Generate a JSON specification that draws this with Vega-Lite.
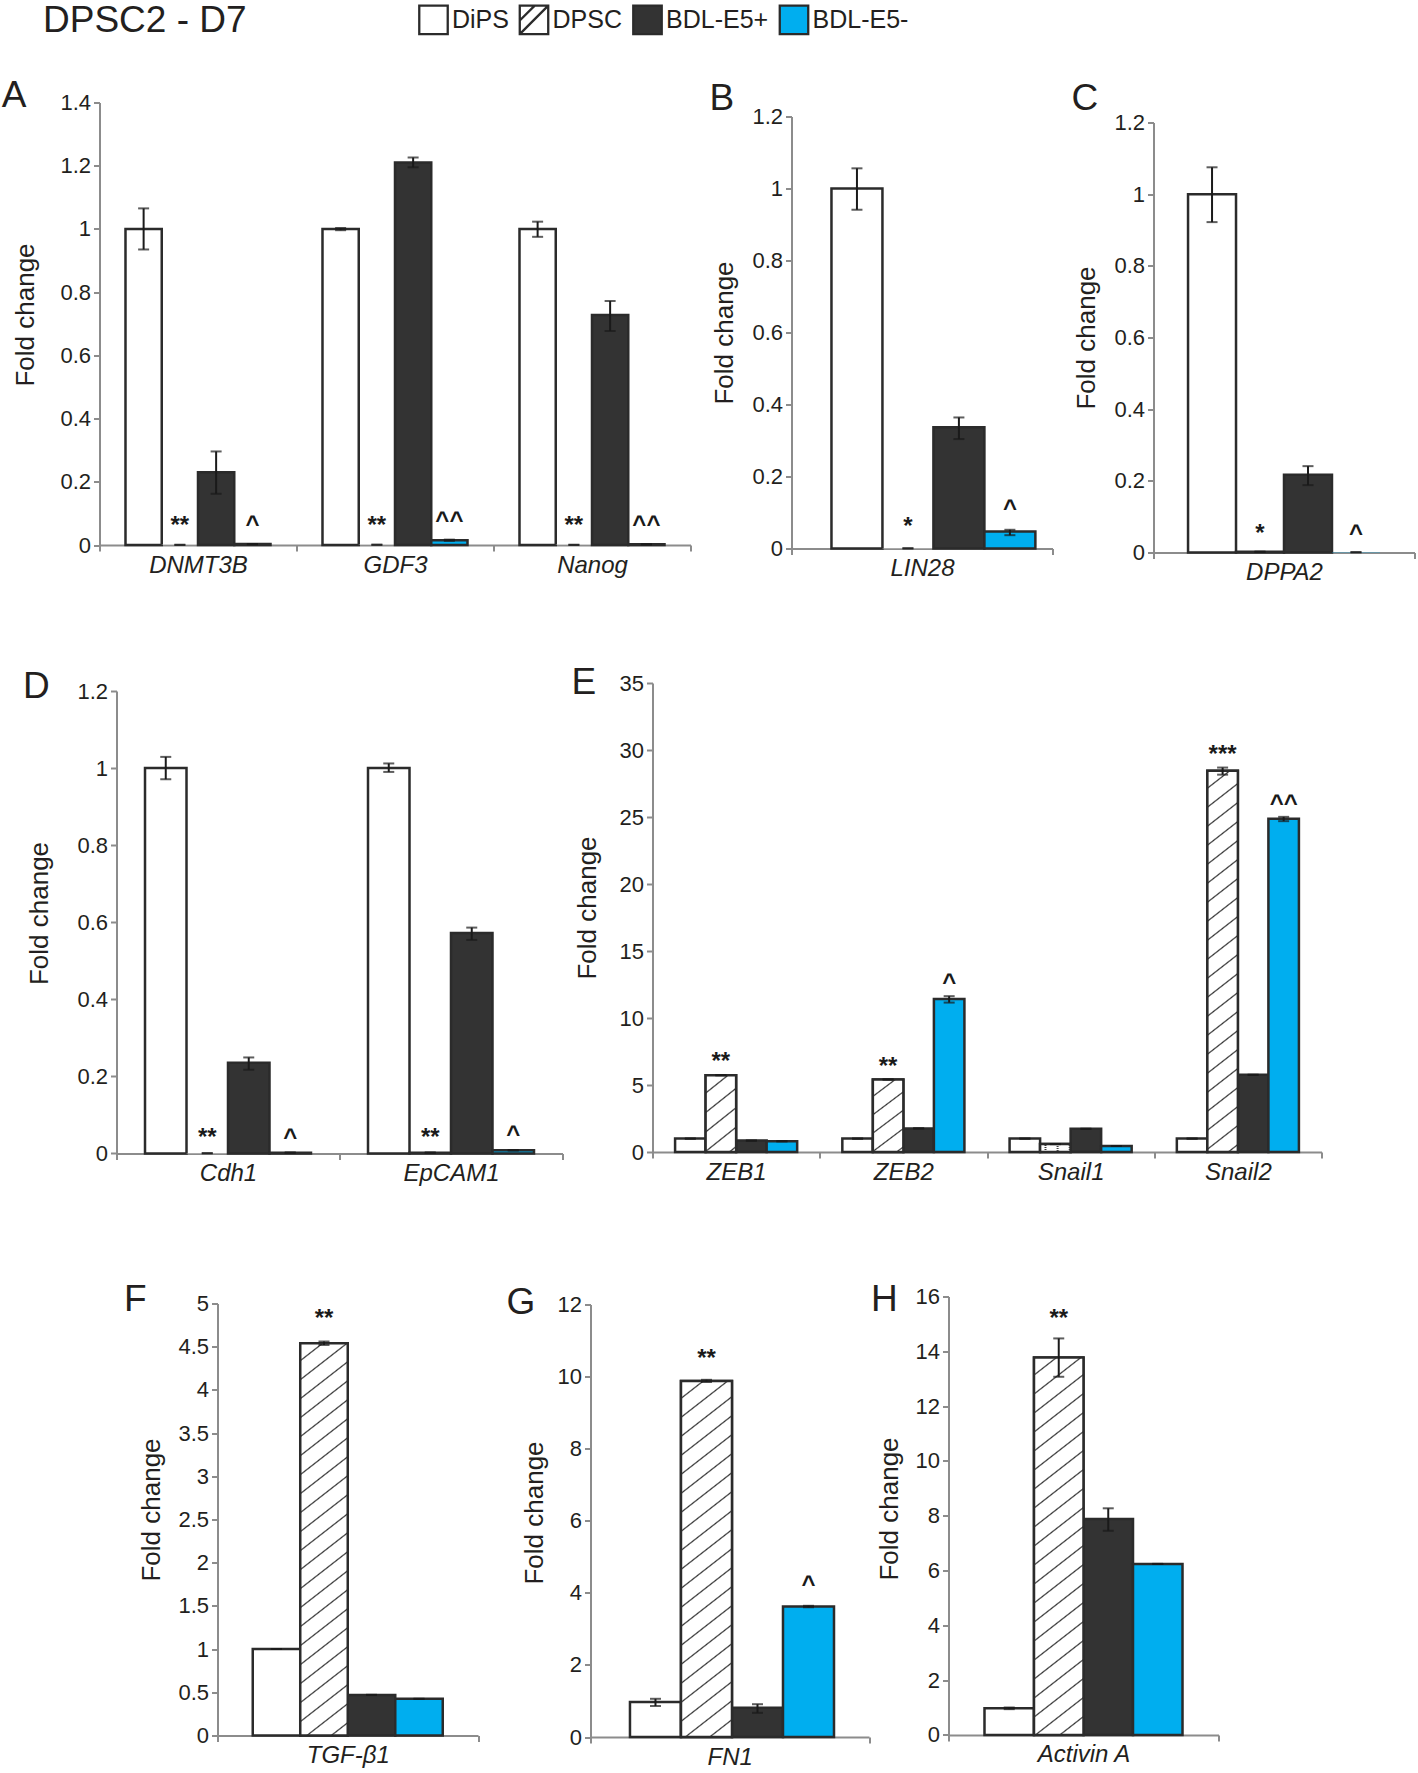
{
  "$schema": "https://vega.github.io/schema/vega-lite/v6.json",
  "padding": {"left": 0.5, "top": 3.5, "right": 2, "bottom": 2},
  "background": "white",
  "datasets": {
    "d": [
      {"p": "A", "gene": "DNMT3B", "group": "DiPS", "value": 1, "lo": 0.935, "hi": 1.065, "sig": ""},
      {"p": "A", "gene": "DNMT3B", "group": "DPSC", "value": 0.0005, "lo": 0.0005, "hi": 0.0005, "sig": "**"},
      {"p": "A", "gene": "DNMT3B", "group": "BDL-E5+", "value": 0.23, "lo": 0.162, "hi": 0.296, "sig": ""},
      {"p": "A", "gene": "DNMT3B", "group": "BDL-E5-", "value": 0.003, "lo": 0.003, "hi": 0.003, "sig": "^"},
      {"p": "A", "gene": "GDF3", "group": "DiPS", "value": 1, "lo": 0.996, "hi": 1.003, "sig": ""},
      {"p": "A", "gene": "GDF3", "group": "DPSC", "value": 0.0008, "lo": 0.0008, "hi": 0.0008, "sig": "**"},
      {"p": "A", "gene": "GDF3", "group": "BDL-E5+", "value": 1.21, "lo": 1.195, "hi": 1.226, "sig": ""},
      {"p": "A", "gene": "GDF3", "group": "BDL-E5-", "value": 0.015, "lo": 0.013, "hi": 0.017, "sig": "^^"},
      {"p": "A", "gene": "Nanog", "group": "DiPS", "value": 1, "lo": 0.975, "hi": 1.023, "sig": ""},
      {"p": "A", "gene": "Nanog", "group": "DPSC", "value": 0.0005, "lo": 0.0005, "hi": 0.0005, "sig": "**"},
      {"p": "A", "gene": "Nanog", "group": "BDL-E5+", "value": 0.728, "lo": 0.677, "hi": 0.772, "sig": ""},
      {"p": "A", "gene": "Nanog", "group": "BDL-E5-", "value": 0.002, "lo": 0.002, "hi": 0.002, "sig": "^^"},
      {"p": "B", "gene": "LIN28", "group": "DiPS", "value": 1, "lo": 0.941, "hi": 1.056, "sig": ""},
      {"p": "B", "gene": "LIN28", "group": "DPSC", "value": 0.0005, "lo": 0.0005, "hi": 0.0005, "sig": "*"},
      {"p": "B", "gene": "LIN28", "group": "BDL-E5+", "value": 0.337, "lo": 0.304, "hi": 0.364, "sig": ""},
      {"p": "B", "gene": "LIN28", "group": "BDL-E5-", "value": 0.047, "lo": 0.037, "hi": 0.052, "sig": "^"},
      {"p": "C", "gene": "DPPA2", "group": "DiPS", "value": 1, "lo": 0.922, "hi": 1.075, "sig": ""},
      {"p": "C", "gene": "DPPA2", "group": "DPSC", "value": 0.002, "lo": 0.002, "hi": 0.002, "sig": "*"},
      {"p": "C", "gene": "DPPA2", "group": "BDL-E5+", "value": 0.217, "lo": 0.188, "hi": 0.241, "sig": ""},
      {"p": "C", "gene": "DPPA2", "group": "BDL-E5-", "value": 0.0008, "lo": 0.0008, "hi": 0.0008, "sig": "^"},
      {"p": "D", "gene": "Cdh1", "group": "DiPS", "value": 1, "lo": 0.971, "hi": 1.029, "sig": ""},
      {"p": "D", "gene": "Cdh1", "group": "DPSC", "value": 0.0005, "lo": 0.0005, "hi": 0.0005, "sig": "**"},
      {"p": "D", "gene": "Cdh1", "group": "BDL-E5+", "value": 0.235, "lo": 0.217, "hi": 0.249, "sig": ""},
      {"p": "D", "gene": "Cdh1", "group": "BDL-E5-", "value": 0.002, "lo": 0.002, "hi": 0.002, "sig": "^"},
      {"p": "D", "gene": "EpCAM1", "group": "DiPS", "value": 1, "lo": 0.99, "hi": 1.012, "sig": ""},
      {"p": "D", "gene": "EpCAM1", "group": "DPSC", "value": 0.002, "lo": 0.002, "hi": 0.002, "sig": "**"},
      {"p": "D", "gene": "EpCAM1", "group": "BDL-E5+", "value": 0.572, "lo": 0.554, "hi": 0.586, "sig": ""},
      {"p": "D", "gene": "EpCAM1", "group": "BDL-E5-", "value": 0.008, "lo": 0.008, "hi": 0.008, "sig": "^"},
      {"p": "E", "gene": "ZEB1", "group": "DiPS", "value": 1, "lo": 1, "hi": 1, "sig": ""},
      {"p": "E", "gene": "ZEB1", "group": "DPSC", "value": 5.73, "lo": 5.73, "hi": 5.73, "sig": "**"},
      {"p": "E", "gene": "ZEB1", "group": "BDL-E5+", "value": 0.85, "lo": 0.85, "hi": 0.85, "sig": ""},
      {"p": "E", "gene": "ZEB1", "group": "BDL-E5-", "value": 0.8, "lo": 0.8, "hi": 0.8, "sig": ""},
      {"p": "E", "gene": "ZEB2", "group": "DiPS", "value": 1, "lo": 1, "hi": 1, "sig": ""},
      {"p": "E", "gene": "ZEB2", "group": "DPSC", "value": 5.41, "lo": 5.41, "hi": 5.41, "sig": "**"},
      {"p": "E", "gene": "ZEB2", "group": "BDL-E5+", "value": 1.76, "lo": 1.76, "hi": 1.76, "sig": ""},
      {"p": "E", "gene": "ZEB2", "group": "BDL-E5-", "value": 11.41, "lo": 11.15, "hi": 11.63, "sig": "^"},
      {"p": "E", "gene": "Snail1", "group": "DiPS", "value": 1, "lo": 1, "hi": 1, "sig": ""},
      {"p": "E", "gene": "Snail1", "group": "DPSC", "value": 0.59, "lo": 0.59, "hi": 0.59, "sig": ""},
      {"p": "E", "gene": "Snail1", "group": "BDL-E5+", "value": 1.73, "lo": 1.73, "hi": 1.73, "sig": ""},
      {"p": "E", "gene": "Snail1", "group": "BDL-E5-", "value": 0.45, "lo": 0.45, "hi": 0.45, "sig": ""},
      {"p": "E", "gene": "Snail2", "group": "DiPS", "value": 1, "lo": 1, "hi": 1, "sig": ""},
      {"p": "E", "gene": "Snail2", "group": "DPSC", "value": 28.45, "lo": 28.16, "hi": 28.69, "sig": "***"},
      {"p": "E", "gene": "Snail2", "group": "BDL-E5+", "value": 5.76, "lo": 5.76, "hi": 5.76, "sig": ""},
      {"p": "E", "gene": "Snail2", "group": "BDL-E5-", "value": 24.87, "lo": 24.69, "hi": 25.01, "sig": "^^"},
      {"p": "F", "gene": "TGF-β1", "group": "DiPS", "value": 1, "lo": 1, "hi": 1, "sig": ""},
      {"p": "F", "gene": "TGF-β1", "group": "DPSC", "value": 4.54, "lo": 4.52, "hi": 4.56, "sig": "**"},
      {"p": "F", "gene": "TGF-β1", "group": "BDL-E5+", "value": 0.47, "lo": 0.47, "hi": 0.47, "sig": ""},
      {"p": "F", "gene": "TGF-β1", "group": "BDL-E5-", "value": 0.424, "lo": 0.424, "hi": 0.424, "sig": ""},
      {"p": "G", "gene": "FN1", "group": "DiPS", "value": 0.97, "lo": 0.86, "hi": 1.06, "sig": ""},
      {"p": "G", "gene": "FN1", "group": "DPSC", "value": 9.88, "lo": 9.85, "hi": 9.91, "sig": "**"},
      {"p": "G", "gene": "FN1", "group": "BDL-E5+", "value": 0.81, "lo": 0.67, "hi": 0.91, "sig": ""},
      {"p": "G", "gene": "FN1", "group": "BDL-E5-", "value": 3.62, "lo": 3.6, "hi": 3.64, "sig": "^"},
      {"p": "H", "gene": "Activin A", "group": "DiPS", "value": 0.97, "lo": 0.94, "hi": 1.0, "sig": ""},
      {"p": "H", "gene": "Activin A", "group": "DPSC", "value": 13.77, "lo": 13.07, "hi": 14.47, "sig": "**"},
      {"p": "H", "gene": "Activin A", "group": "BDL-E5+", "value": 7.88, "lo": 7.45, "hi": 8.27, "sig": ""},
      {"p": "H", "gene": "Activin A", "group": "BDL-E5-", "value": 6.24, "lo": 6.24, "hi": 6.24, "sig": ""}
    ]
  },
  "config": {
    "font": "Liberation Sans",
    "view": {"stroke": null},
    "axis": {"domainColor": "#8c8c8c", "domainWidth": 2, "tickColor": "#8c8c8c", "tickWidth": 2, "tickSize": 6, "labelFont": "Liberation Sans", "labelColor": "#231f20", "titleFont": "Liberation Sans", "titleFontSize": 26, "titleFontWeight": "normal", "titleColor": "#231f20", "grid": false},
    "axisY": {"labelFontSize": 22, "labelPadding": 3, "minExtent": 38, "maxExtent": 38},
    "axisX": {"labelFontSize": 24, "labelFontStyle": "italic", "labelAngle": 0, "labelPadding": 2},
    "title": {"font": "Liberation Sans", "fontSize": 37, "fontWeight": "normal", "color": "#231f20", "anchor": "start", "frame": "group", "baseline": "alphabetic"},
    "legend": {"labelFont": "Liberation Sans", "titleFont": "Liberation Sans"}
  },
  "resolve": {"scale": {"xOffset": "independent"}},
  "spacing": 10.5,
  "vconcat": [
    {
      "resolve": {"scale": {"xOffset": "independent"}},
      "spacing": 0,
      "hconcat": [
        {"width": 1, "height": 577, "data": {"values": [{"s": 1}]}, "mark": {"type": "rect", "opacity": 0}},
        {
          "resolve": {"scale": {"xOffset": "independent"}},
          "spacing": 18,
          "hconcat": [
            {
              "resolve": {"scale": {"xOffset": "independent"}},
              "spacing": 0,
              "vconcat": [
                {"width": 1, "height": 1, "data": {"values": [{"s": 1}]}, "mark": {"type": "rect", "opacity": 0}},
                {
                  "width": 591, "height": 442.5,
                  "title": {"text": "A", "dx": -97.8, "offset": -23.5},
                  "data": {"name": "d"},
                  "transform": [{"filter": "datum.p === 'A'"}],
                  "encoding": {
                    "x": {"field": "gene", "type": "nominal", "sort": null, "scale": {"paddingInner": 0, "paddingOuter": 0}, "axis": {"title": null, "tickBand": "extent"}},
                    "xOffset": {"field": "group", "type": "nominal", "sort": ["DiPS", "DPSC", "BDL-E5+", "BDL-E5-"], "scale": {"paddingInner": 0, "paddingOuter": 0.717}}
                  },
                  "layer": [
                    {"mark": {"type": "bar", "stroke": "#2b2b2b"},
                     "encoding": {
                       "y": {"field": "value", "type": "quantitative", "scale": {"domain": [0, 1.4], "nice": false}, "axis": {"title": "Fold change", "values": [0, 0.2, 0.4, 0.6, 0.8, 1, 1.2, 1.4], "format": "~g", "titlePadding": 23.5, "titleY": 212}},
                       "fill": {"field": "group", "type": "nominal", "scale": {"domain": ["DiPS", "DPSC", "BDL-E5+", "BDL-E5-"], "range": ["#ffffff", "#ffffff", "#333333", "#00aeef"]},
                         "legend": {"orient": "none", "legendX": 42.5, "legendY": -71.5, "direction": "horizontal", "columns": 4, "title": "DPSC2 - D7", "titleOrient": "left", "titleFontSize": 37, "titleFontWeight": "normal", "titleColor": "#231f20", "titlePadding": 171, "titleLimit": 500, "labelFontSize": 25, "labelColor": "#231f20", "labelOffset": 3, "columnPadding": 5.5, "symbolType": "square", "symbolSize": 810, "symbolStrokeWidth": 2.5, "symbolStrokeColor": "#2b2b2b", "padding": 0,
                           "encoding": {"symbols": {
                             "fill": {"value": {"expr": "scale('fill', datum.value)"}},
                             "stroke": {"value": "#2b2b2b"},
                             "strokeWidth": {"value": 2.3},
                             "shape": {"value": {"expr": "datum.value === 'DPSC' ? 'M-1,-1H1V1H-1ZM-1,1L1,-1M-1,0.05L0.05,-1' : 'square'"}}
                           }}}},
                       "strokeWidth": {"condition": {"test": "datum.value < 0.001", "value": 0}, "value": 2.5}
                     }},
                    {"mark": {"type": "rule", "color": "#1a1a1a", "strokeWidth": 2}, "encoding": {"y": {"field": "lo", "type": "quantitative", "scale": {"domain": [0, 1.4], "nice": false}}, "y2": {"field": "hi"}}},
                    {"mark": {"type": "tick", "color": "#1a1a1a", "thickness": 2, "size": 11}, "encoding": {"y": {"field": "lo", "type": "quantitative", "scale": {"domain": [0, 1.4], "nice": false}}}},
                    {"mark": {"type": "tick", "color": "#1a1a1a", "thickness": 2, "size": 11}, "encoding": {"y": {"field": "hi", "type": "quantitative", "scale": {"domain": [0, 1.4], "nice": false}}}},
                    {"mark": {"type": "text", "fontSize": 24, "fontWeight": "bold", "baseline": "alphabetic", "dy": -12, "color": "#1a1a1a"}, "encoding": {"y": {"field": "hi", "type": "quantitative", "scale": {"domain": [0, 1.4], "nice": false}}, "text": {"field": "sig"}}}
                  ]
                }
              ]
            },
            {
              "resolve": {"scale": {"xOffset": "independent"}},
              "spacing": 0,
              "vconcat": [
                {"width": 1, "height": 4, "data": {"values": [{"s": 1}]}, "mark": {"type": "rect", "opacity": 0}},
                {
                  "width": 261, "height": 432,
                  "title": {"text": "B", "dx": -82, "offset": -12.9},
                  "data": {"name": "d"},
                  "transform": [{"filter": "datum.p === 'B'"}],
                  "encoding": {
                    "x": {"field": "gene", "type": "nominal", "sort": null, "scale": {"paddingInner": 0, "paddingOuter": 0}, "axis": {"title": null, "tickBand": "extent"}},
                    "xOffset": {"field": "group", "type": "nominal", "sort": ["DiPS", "DPSC", "BDL-E5+", "BDL-E5-"], "scale": {"paddingInner": 0, "paddingOuter": 0.56, "align": 0.7}}
                  },
                  "layer": [
                    {"mark": {"type": "bar", "stroke": "#2b2b2b"},
                     "encoding": {
                       "y": {"field": "value", "type": "quantitative", "scale": {"domain": [0, 1.2], "nice": false}, "axis": {"title": "Fold change", "values": [0, 0.2, 0.4, 0.6, 0.8, 1, 1.2], "format": "~g", "titlePadding": 16}},
                       "fill": {"field": "group", "type": "nominal", "scale": {"domain": ["DiPS", "DPSC", "BDL-E5+", "BDL-E5-"], "range": ["#ffffff", "#ffffff", "#333333", "#00aeef"]}},
                       "strokeWidth": {"condition": {"test": "datum.value < 0.001", "value": 0}, "value": 2.5}
                     }},
                    {"mark": {"type": "rule", "color": "#1a1a1a", "strokeWidth": 2}, "encoding": {"y": {"field": "lo", "type": "quantitative", "scale": {"domain": [0, 1.2], "nice": false}}, "y2": {"field": "hi"}}},
                    {"mark": {"type": "tick", "color": "#1a1a1a", "thickness": 2, "size": 11}, "encoding": {"y": {"field": "lo", "type": "quantitative", "scale": {"domain": [0, 1.2], "nice": false}}}},
                    {"mark": {"type": "tick", "color": "#1a1a1a", "thickness": 2, "size": 11}, "encoding": {"y": {"field": "hi", "type": "quantitative", "scale": {"domain": [0, 1.2], "nice": false}}}},
                    {"mark": {"type": "text", "fontSize": 24, "fontWeight": "bold", "baseline": "alphabetic", "dy": -14, "color": "#1a1a1a"}, "encoding": {"y": {"field": "hi", "type": "quantitative", "scale": {"domain": [0, 1.2], "nice": false}}, "text": {"field": "sig"}}}
                  ]
                }
              ]
            },
            {
              "resolve": {"scale": {"xOffset": "independent"}},
              "spacing": 0,
              "vconcat": [
                {"width": 1, "height": 4, "data": {"values": [{"s": 1}]}, "mark": {"type": "rect", "opacity": 0}},
                {
                  "width": 261, "height": 430,
                  "title": {"text": "C", "dx": -82, "offset": -6.4},
                  "data": {"name": "d"},
                  "transform": [{"filter": "datum.p === 'C'"}],
                  "encoding": {
                    "x": {"field": "gene", "type": "nominal", "sort": null, "scale": {"paddingInner": 0, "paddingOuter": 0}, "axis": {"title": null, "tickBand": "extent"}},
                    "xOffset": {"field": "group", "type": "nominal", "sort": ["DiPS", "DPSC", "BDL-E5+", "BDL-E5-"], "scale": {"paddingInner": 0, "paddingOuter": 0.72}}
                  },
                  "layer": [
                    {"mark": {"type": "bar", "stroke": "#2b2b2b"},
                     "encoding": {
                       "y": {"field": "value", "type": "quantitative", "scale": {"domain": [0, 1.2], "nice": false}, "axis": {"title": "Fold change", "values": [0, 0.2, 0.4, 0.6, 0.8, 1, 1.2], "format": "~g", "titlePadding": 16}},
                       "fill": {"field": "group", "type": "nominal", "scale": {"domain": ["DiPS", "DPSC", "BDL-E5+", "BDL-E5-"], "range": ["#ffffff", "#ffffff", "#333333", "#00aeef"]}},
                       "strokeWidth": {"condition": {"test": "datum.value < 0.001", "value": 0}, "value": 2.5}
                     }},
                    {"mark": {"type": "rule", "color": "#1a1a1a", "strokeWidth": 2}, "encoding": {"y": {"field": "lo", "type": "quantitative", "scale": {"domain": [0, 1.2], "nice": false}}, "y2": {"field": "hi"}}},
                    {"mark": {"type": "tick", "color": "#1a1a1a", "thickness": 2, "size": 11}, "encoding": {"y": {"field": "lo", "type": "quantitative", "scale": {"domain": [0, 1.2], "nice": false}}}},
                    {"mark": {"type": "tick", "color": "#1a1a1a", "thickness": 2, "size": 11}, "encoding": {"y": {"field": "hi", "type": "quantitative", "scale": {"domain": [0, 1.2], "nice": false}}}},
                    {"mark": {"type": "text", "fontSize": 24, "fontWeight": "bold", "baseline": "alphabetic", "dy": -11, "color": "#1a1a1a"}, "encoding": {"y": {"field": "hi", "type": "quantitative", "scale": {"domain": [0, 1.2], "nice": false}}, "text": {"field": "sig"}}}
                  ]
                }
              ]
            }
          ]
        }
      ]
    },
    {
      "resolve": {"scale": {"xOffset": "independent"}},
      "spacing": 0,
      "hconcat": [
        {"width": 22, "height": 606, "data": {"values": [{"s": 1}]}, "mark": {"type": "rect", "opacity": 0}},
        {
          "resolve": {"scale": {"xOffset": "independent"}},
          "spacing": 8,
          "hconcat": [
            {
              "resolve": {"scale": {"xOffset": "independent"}},
              "spacing": 0,
              "vconcat": [
                {"width": 1, "height": 5, "data": {"values": [{"s": 1}]}, "mark": {"type": "rect", "opacity": 0}},
                {
                  "width": 446, "height": 462.4,
                  "title": {"text": "D", "dx": -93.4, "offset": -26.2},
                  "data": {"name": "d"},
                  "transform": [{"filter": "datum.p === 'D'"}],
                  "encoding": {
                    "x": {"field": "gene", "type": "nominal", "sort": null, "scale": {"paddingInner": 0, "paddingOuter": 0}, "axis": {"title": null, "tickBand": "extent"}},
                    "xOffset": {"field": "group", "type": "nominal", "sort": ["DiPS", "DPSC", "BDL-E5+", "BDL-E5-"], "scale": {"paddingInner": 0, "paddingOuter": 0.687}}
                  },
                  "layer": [
                    {"mark": {"type": "bar", "stroke": "#2b2b2b"},
                     "encoding": {
                       "y": {"field": "value", "type": "quantitative", "scale": {"domain": [0, 1.2], "nice": false}, "axis": {"title": "Fold change", "values": [0, 0.2, 0.4, 0.6, 0.8, 1, 1.2], "format": "~g", "titlePadding": 26, "titleY": 222}},
                       "fill": {"field": "group", "type": "nominal", "scale": {"domain": ["DiPS", "DPSC", "BDL-E5+", "BDL-E5-"], "range": ["#ffffff", "#ffffff", "#333333", "#00aeef"]}},
                       "strokeWidth": {"condition": {"test": "datum.value < 0.001", "value": 0}, "value": 2.5}
                     }},
                    {"mark": {"type": "rule", "color": "#1a1a1a", "strokeWidth": 2}, "encoding": {"y": {"field": "lo", "type": "quantitative", "scale": {"domain": [0, 1.2], "nice": false}}, "y2": {"field": "hi"}}},
                    {"mark": {"type": "tick", "color": "#1a1a1a", "thickness": 2, "size": 11}, "encoding": {"y": {"field": "lo", "type": "quantitative", "scale": {"domain": [0, 1.2], "nice": false}}}},
                    {"mark": {"type": "tick", "color": "#1a1a1a", "thickness": 2, "size": 11}, "encoding": {"y": {"field": "hi", "type": "quantitative", "scale": {"domain": [0, 1.2], "nice": false}}}},
                    {"mark": {"type": "text", "fontSize": 24, "fontWeight": "bold", "baseline": "alphabetic", "dy": -8, "color": "#1a1a1a"}, "encoding": {"y": {"field": "hi", "type": "quantitative", "scale": {"domain": [0, 1.2], "nice": false}}, "text": {"field": "sig"}}}
                  ]
                }
              ]
            },
            {
              "resolve": {"scale": {"xOffset": "independent"}},
              "spacing": 0,
              "vconcat": [
                {"width": 1, "height": 1, "data": {"values": [{"s": 1}]}, "mark": {"type": "rect", "opacity": 0}},
                {
                  "width": 669, "height": 469,
                  "title": {"text": "E", "dx": -81, "offset": -30.2},
                  "data": {"name": "d"},
                  "transform": [{"filter": "datum.p === 'E'"}],
                  "encoding": {
                    "x": {"field": "gene", "type": "nominal", "sort": null, "scale": {"paddingInner": 0, "paddingOuter": 0}, "axis": {"title": null, "tickBand": "extent"}},
                    "xOffset": {"field": "group", "type": "nominal", "sort": ["DiPS", "DPSC", "BDL-E5+", "BDL-E5-"], "scale": {"paddingInner": 0, "paddingOuter": 0.74}}
                  },
                  "layer": [
                    {"mark": {"type": "bar", "stroke": "#2b2b2b"},
                     "encoding": {
                       "y": {"field": "value", "type": "quantitative", "scale": {"domain": [0, 35], "nice": false}, "axis": {"title": "Fold change", "values": [0, 5, 10, 15, 20, 25, 30, 35], "format": "~g", "titlePadding": 14, "titleY": 224.5}},
                       "fill": {"field": "group", "type": "nominal", "scale": {"domain": ["DiPS", "DPSC", "BDL-E5+", "BDL-E5-"], "range": ["#ffffff", "#ffffff", "#333333", "#00aeef"]}},
                       "strokeWidth": {"condition": {"test": "datum.value < 0.001", "value": 0}, "value": 2.5}
                     }},
                    {"transform": [{"filter": "datum.group === 'DPSC' && (datum.gene === 'ZEB1' || datum.gene === 'ZEB2' || datum.gene === 'Snail1')"}],
                     "mark": {"type": "bar", "stroke": "#2b2b2b", "strokeWidth": 2.5, "fill": {"gradient": "linear", "x1": 0, "y1": 0, "x2": 1.606, "y2": 5.064, "stops": [{"offset":0,"color":"#fff"},{"offset":0.03825,"color":"#fff"},{"offset":0.04185,"color":"#333"},{"offset":0.04545,"color":"#fff"},{"offset":0.08371,"color":"#fff"},{"offset":0.08731,"color":"#333"},{"offset":0.09091,"color":"#fff"},{"offset":0.12916,"color":"#fff"},{"offset":0.13276,"color":"#333"},{"offset":0.13636,"color":"#fff"},{"offset":0.17462,"color":"#fff"},{"offset":0.17822,"color":"#333"},{"offset":0.18182,"color":"#fff"},{"offset":0.22007,"color":"#fff"},{"offset":0.22367,"color":"#333"},{"offset":0.22727,"color":"#fff"},{"offset":0.26553,"color":"#fff"},{"offset":0.26913,"color":"#333"},{"offset":0.27273,"color":"#fff"},{"offset":0.31098,"color":"#fff"},{"offset":0.31458,"color":"#333"},{"offset":0.31818,"color":"#fff"},{"offset":1,"color":"#fff"}]}},
                     "encoding": {"y": {"field": "value", "type": "quantitative", "scale": {"domain": [0, 35], "nice": false}}}},
                    {"transform": [{"filter": "datum.group === 'DPSC' && datum.gene === 'Snail2'"}],
                     "mark": {"type": "bar", "stroke": "#2b2b2b", "strokeWidth": 2.5, "fill": {"gradient": "linear", "x1": 0, "y1": 0, "x2": 0.0682, "y2": 1.0923, "stops": [{"offset":0,"color":"#fff"},{"offset":0.03825,"color":"#fff"},{"offset":0.04185,"color":"#333"},{"offset":0.04545,"color":"#fff"},{"offset":0.08371,"color":"#fff"},{"offset":0.08731,"color":"#333"},{"offset":0.09091,"color":"#fff"},{"offset":0.12916,"color":"#fff"},{"offset":0.13276,"color":"#333"},{"offset":0.13636,"color":"#fff"},{"offset":0.17462,"color":"#fff"},{"offset":0.17822,"color":"#333"},{"offset":0.18182,"color":"#fff"},{"offset":0.22007,"color":"#fff"},{"offset":0.22367,"color":"#333"},{"offset":0.22727,"color":"#fff"},{"offset":0.26553,"color":"#fff"},{"offset":0.26913,"color":"#333"},{"offset":0.27273,"color":"#fff"},{"offset":0.31098,"color":"#fff"},{"offset":0.31458,"color":"#333"},{"offset":0.31818,"color":"#fff"},{"offset":0.35644,"color":"#fff"},{"offset":0.36004,"color":"#333"},{"offset":0.36364,"color":"#fff"},{"offset":0.40189,"color":"#fff"},{"offset":0.40549,"color":"#333"},{"offset":0.40909,"color":"#fff"},{"offset":0.44735,"color":"#fff"},{"offset":0.45095,"color":"#333"},{"offset":0.45455,"color":"#fff"},{"offset":0.4928,"color":"#fff"},{"offset":0.4964,"color":"#333"},{"offset":0.5,"color":"#fff"},{"offset":0.53825,"color":"#fff"},{"offset":0.54185,"color":"#333"},{"offset":0.54545,"color":"#fff"},{"offset":0.58371,"color":"#fff"},{"offset":0.58731,"color":"#333"},{"offset":0.59091,"color":"#fff"},{"offset":0.62916,"color":"#fff"},{"offset":0.63276,"color":"#333"},{"offset":0.63636,"color":"#fff"},{"offset":0.67462,"color":"#fff"},{"offset":0.67822,"color":"#333"},{"offset":0.68182,"color":"#fff"},{"offset":0.72007,"color":"#fff"},{"offset":0.72367,"color":"#333"},{"offset":0.72727,"color":"#fff"},{"offset":0.76553,"color":"#fff"},{"offset":0.76913,"color":"#333"},{"offset":0.77273,"color":"#fff"},{"offset":0.81098,"color":"#fff"},{"offset":0.81458,"color":"#333"},{"offset":0.81818,"color":"#fff"},{"offset":0.85644,"color":"#fff"},{"offset":0.86004,"color":"#333"},{"offset":0.86364,"color":"#fff"},{"offset":0.90189,"color":"#fff"},{"offset":0.90549,"color":"#333"},{"offset":0.90909,"color":"#fff"},{"offset":0.94735,"color":"#fff"},{"offset":0.95095,"color":"#333"},{"offset":0.95455,"color":"#fff"},{"offset":0.9928,"color":"#fff"},{"offset":0.9964,"color":"#333"},{"offset":1,"color":"#fff"}]}},
                     "encoding": {"y": {"field": "value", "type": "quantitative", "scale": {"domain": [0, 35], "nice": false}}}},
                    {"mark": {"type": "rule", "color": "#1a1a1a", "strokeWidth": 2}, "encoding": {"y": {"field": "lo", "type": "quantitative", "scale": {"domain": [0, 35], "nice": false}}, "y2": {"field": "hi"}}},
                    {"mark": {"type": "tick", "color": "#1a1a1a", "thickness": 2, "size": 11}, "encoding": {"y": {"field": "lo", "type": "quantitative", "scale": {"domain": [0, 35], "nice": false}}}},
                    {"mark": {"type": "tick", "color": "#1a1a1a", "thickness": 2, "size": 11}, "encoding": {"y": {"field": "hi", "type": "quantitative", "scale": {"domain": [0, 35], "nice": false}}}},
                    {"mark": {"type": "text", "fontSize": 24, "fontWeight": "bold", "baseline": "alphabetic", "dy": -6, "color": "#1a1a1a"}, "encoding": {"y": {"field": "hi", "type": "quantitative", "scale": {"domain": [0, 35], "nice": false}}, "text": {"field": "sig"}}}
                  ]
                }
              ]
            }
          ]
        }
      ]
    },
    {
      "resolve": {"scale": {"xOffset": "independent"}},
      "spacing": 0,
      "hconcat": [
        {"width": 123, "height": 1, "data": {"values": [{"s": 1}]}, "mark": {"type": "rect", "opacity": 0}},
        {
          "resolve": {"scale": {"xOffset": "independent"}},
          "spacing": 27,
          "hconcat": [
            {
              "resolve": {"scale": {"xOffset": "independent"}},
              "spacing": 0,
              "vconcat": [
                {"width": 1, "height": 1, "data": {"values": [{"s": 1}]}, "mark": {"type": "rect", "opacity": 0}},
                {
                  "width": 260.5, "height": 432,
                  "title": {"text": "F", "dx": -93.5, "offset": -26.8},
                  "data": {"name": "d"},
                  "transform": [{"filter": "datum.p === 'F'"}],
                  "encoding": {
                    "x": {"field": "gene", "type": "nominal", "sort": null, "scale": {"paddingInner": 0, "paddingOuter": 0}, "axis": {"title": null, "tickBand": "extent"}},
                    "xOffset": {"field": "group", "type": "nominal", "sort": ["DiPS", "DPSC", "BDL-E5+", "BDL-E5-"], "scale": {"paddingInner": 0, "paddingOuter": 0.742}}
                  },
                  "layer": [
                    {"mark": {"type": "bar", "stroke": "#2b2b2b"},
                     "encoding": {
                       "y": {"field": "value", "type": "quantitative", "scale": {"domain": [0, 5], "nice": false}, "axis": {"title": "Fold change", "values": [0, 0.5, 1, 1.5, 2, 2.5, 3, 3.5, 4, 4.5, 5], "format": "~g", "titlePadding": 15, "titleY": 206}},
                       "fill": {"field": "group", "type": "nominal", "scale": {"domain": ["DiPS", "DPSC", "BDL-E5+", "BDL-E5-"], "range": ["#ffffff", "#ffffff", "#333333", "#00aeef"]}},
                       "strokeWidth": {"condition": {"test": "datum.value < 0.001", "value": 0}, "value": 2.5}
                     }},
                    {"transform": [{"filter": "datum.group === 'DPSC'"}],
                     "mark": {"type": "bar", "stroke": "#2b2b2b", "strokeWidth": 2.5, "fill": {"gradient": "linear", "x1": 0, "y1": 0, "x2": 0.0997, "y2": 1.0561, "stops": [{"offset":0,"color":"#fff"},{"offset":0.03825,"color":"#fff"},{"offset":0.04185,"color":"#333"},{"offset":0.04545,"color":"#fff"},{"offset":0.08371,"color":"#fff"},{"offset":0.08731,"color":"#333"},{"offset":0.09091,"color":"#fff"},{"offset":0.12916,"color":"#fff"},{"offset":0.13276,"color":"#333"},{"offset":0.13636,"color":"#fff"},{"offset":0.17462,"color":"#fff"},{"offset":0.17822,"color":"#333"},{"offset":0.18182,"color":"#fff"},{"offset":0.22007,"color":"#fff"},{"offset":0.22367,"color":"#333"},{"offset":0.22727,"color":"#fff"},{"offset":0.26553,"color":"#fff"},{"offset":0.26913,"color":"#333"},{"offset":0.27273,"color":"#fff"},{"offset":0.31098,"color":"#fff"},{"offset":0.31458,"color":"#333"},{"offset":0.31818,"color":"#fff"},{"offset":0.35644,"color":"#fff"},{"offset":0.36004,"color":"#333"},{"offset":0.36364,"color":"#fff"},{"offset":0.40189,"color":"#fff"},{"offset":0.40549,"color":"#333"},{"offset":0.40909,"color":"#fff"},{"offset":0.44735,"color":"#fff"},{"offset":0.45095,"color":"#333"},{"offset":0.45455,"color":"#fff"},{"offset":0.4928,"color":"#fff"},{"offset":0.4964,"color":"#333"},{"offset":0.5,"color":"#fff"},{"offset":0.53825,"color":"#fff"},{"offset":0.54185,"color":"#333"},{"offset":0.54545,"color":"#fff"},{"offset":0.58371,"color":"#fff"},{"offset":0.58731,"color":"#333"},{"offset":0.59091,"color":"#fff"},{"offset":0.62916,"color":"#fff"},{"offset":0.63276,"color":"#333"},{"offset":0.63636,"color":"#fff"},{"offset":0.67462,"color":"#fff"},{"offset":0.67822,"color":"#333"},{"offset":0.68182,"color":"#fff"},{"offset":0.72007,"color":"#fff"},{"offset":0.72367,"color":"#333"},{"offset":0.72727,"color":"#fff"},{"offset":0.76553,"color":"#fff"},{"offset":0.76913,"color":"#333"},{"offset":0.77273,"color":"#fff"},{"offset":0.81098,"color":"#fff"},{"offset":0.81458,"color":"#333"},{"offset":0.81818,"color":"#fff"},{"offset":0.85644,"color":"#fff"},{"offset":0.86004,"color":"#333"},{"offset":0.86364,"color":"#fff"},{"offset":0.90189,"color":"#fff"},{"offset":0.90549,"color":"#333"},{"offset":0.90909,"color":"#fff"},{"offset":0.94735,"color":"#fff"},{"offset":0.95095,"color":"#333"},{"offset":0.95455,"color":"#fff"},{"offset":0.9928,"color":"#fff"},{"offset":0.9964,"color":"#333"},{"offset":1,"color":"#fff"}]}},
                     "encoding": {"y": {"field": "value", "type": "quantitative", "scale": {"domain": [0, 5], "nice": false}}}},
                    {"mark": {"type": "rule", "color": "#1a1a1a", "strokeWidth": 2}, "encoding": {"y": {"field": "lo", "type": "quantitative", "scale": {"domain": [0, 5], "nice": false}}, "y2": {"field": "hi"}}},
                    {"mark": {"type": "tick", "color": "#1a1a1a", "thickness": 2, "size": 11}, "encoding": {"y": {"field": "lo", "type": "quantitative", "scale": {"domain": [0, 5], "nice": false}}}},
                    {"mark": {"type": "tick", "color": "#1a1a1a", "thickness": 2, "size": 11}, "encoding": {"y": {"field": "hi", "type": "quantitative", "scale": {"domain": [0, 5], "nice": false}}}},
                    {"mark": {"type": "text", "fontSize": 24, "fontWeight": "bold", "baseline": "alphabetic", "dy": -16, "color": "#1a1a1a"}, "encoding": {"y": {"field": "hi", "type": "quantitative", "scale": {"domain": [0, 5], "nice": false}}, "text": {"field": "sig"}}}
                  ]
                }
              ]
            },
            {
              "resolve": {"scale": {"xOffset": "independent"}},
              "spacing": 0,
              "hconcat": [
                {
                  "resolve": {"scale": {"xOffset": "independent"}},
                  "spacing": 0,
                  "vconcat": [
                    {"width": 1, "height": 4, "data": {"values": [{"s": 1}]}, "mark": {"type": "rect", "opacity": 0}},
                    {
                      "width": 278.5, "height": 432.5,
                      "title": {"text": "G", "dx": -84, "offset": -28.9},
                      "data": {"name": "d"},
                      "transform": [{"filter": "datum.p === 'G'"}],
                      "encoding": {
                        "x": {"field": "gene", "type": "nominal", "sort": null, "scale": {"paddingInner": 0, "paddingOuter": 0}, "axis": {"title": null, "tickBand": "extent"}},
                        "xOffset": {"field": "group", "type": "nominal", "sort": ["DiPS", "DPSC", "BDL-E5+", "BDL-E5-"], "scale": {"paddingInner": 0, "paddingOuter": 0.73, "align": 0.53}}
                      },
                      "layer": [
                        {"mark": {"type": "bar", "stroke": "#2b2b2b"},
                         "encoding": {
                           "y": {"field": "value", "type": "quantitative", "scale": {"domain": [0, 12], "nice": false}, "axis": {"title": "Fold change", "values": [0, 2, 4, 6, 8, 10, 12], "format": "~g", "titlePadding": 5, "titleY": 208}},
                           "fill": {"field": "group", "type": "nominal", "scale": {"domain": ["DiPS", "DPSC", "BDL-E5+", "BDL-E5-"], "range": ["#ffffff", "#ffffff", "#333333", "#00aeef"]}},
                           "strokeWidth": {"condition": {"test": "datum.value < 0.001", "value": 0}, "value": 2.5}
                         }},
                        {"transform": [{"filter": "datum.group === 'DPSC'"}],
                         "mark": {"type": "bar", "stroke": "#2b2b2b", "strokeWidth": 2.5, "fill": {"gradient": "linear", "x1": 0, "y1": 0, "x2": 0.1295, "y2": 1.1594, "stops": [{"offset":0,"color":"#fff"},{"offset":0.03825,"color":"#fff"},{"offset":0.04185,"color":"#333"},{"offset":0.04545,"color":"#fff"},{"offset":0.08371,"color":"#fff"},{"offset":0.08731,"color":"#333"},{"offset":0.09091,"color":"#fff"},{"offset":0.12916,"color":"#fff"},{"offset":0.13276,"color":"#333"},{"offset":0.13636,"color":"#fff"},{"offset":0.17462,"color":"#fff"},{"offset":0.17822,"color":"#333"},{"offset":0.18182,"color":"#fff"},{"offset":0.22007,"color":"#fff"},{"offset":0.22367,"color":"#333"},{"offset":0.22727,"color":"#fff"},{"offset":0.26553,"color":"#fff"},{"offset":0.26913,"color":"#333"},{"offset":0.27273,"color":"#fff"},{"offset":0.31098,"color":"#fff"},{"offset":0.31458,"color":"#333"},{"offset":0.31818,"color":"#fff"},{"offset":0.35644,"color":"#fff"},{"offset":0.36004,"color":"#333"},{"offset":0.36364,"color":"#fff"},{"offset":0.40189,"color":"#fff"},{"offset":0.40549,"color":"#333"},{"offset":0.40909,"color":"#fff"},{"offset":0.44735,"color":"#fff"},{"offset":0.45095,"color":"#333"},{"offset":0.45455,"color":"#fff"},{"offset":0.4928,"color":"#fff"},{"offset":0.4964,"color":"#333"},{"offset":0.5,"color":"#fff"},{"offset":0.53825,"color":"#fff"},{"offset":0.54185,"color":"#333"},{"offset":0.54545,"color":"#fff"},{"offset":0.58371,"color":"#fff"},{"offset":0.58731,"color":"#333"},{"offset":0.59091,"color":"#fff"},{"offset":0.62916,"color":"#fff"},{"offset":0.63276,"color":"#333"},{"offset":0.63636,"color":"#fff"},{"offset":0.67462,"color":"#fff"},{"offset":0.67822,"color":"#333"},{"offset":0.68182,"color":"#fff"},{"offset":0.72007,"color":"#fff"},{"offset":0.72367,"color":"#333"},{"offset":0.72727,"color":"#fff"},{"offset":0.76553,"color":"#fff"},{"offset":0.76913,"color":"#333"},{"offset":0.77273,"color":"#fff"},{"offset":0.81098,"color":"#fff"},{"offset":0.81458,"color":"#333"},{"offset":0.81818,"color":"#fff"},{"offset":0.85644,"color":"#fff"},{"offset":0.86004,"color":"#333"},{"offset":0.86364,"color":"#fff"},{"offset":0.90189,"color":"#fff"},{"offset":0.90549,"color":"#333"},{"offset":0.90909,"color":"#fff"},{"offset":0.94735,"color":"#fff"},{"offset":0.95095,"color":"#333"},{"offset":0.95455,"color":"#fff"},{"offset":0.9928,"color":"#fff"},{"offset":0.9964,"color":"#333"},{"offset":1,"color":"#fff"}]}},
                         "encoding": {"y": {"field": "value", "type": "quantitative", "scale": {"domain": [0, 12], "nice": false}}}},
                        {"mark": {"type": "rule", "color": "#1a1a1a", "strokeWidth": 2}, "encoding": {"y": {"field": "lo", "type": "quantitative", "scale": {"domain": [0, 12], "nice": false}}, "y2": {"field": "hi"}}},
                        {"mark": {"type": "tick", "color": "#1a1a1a", "thickness": 2, "size": 11}, "encoding": {"y": {"field": "lo", "type": "quantitative", "scale": {"domain": [0, 12], "nice": false}}}},
                        {"mark": {"type": "tick", "color": "#1a1a1a", "thickness": 2, "size": 11}, "encoding": {"y": {"field": "hi", "type": "quantitative", "scale": {"domain": [0, 12], "nice": false}}}},
                        {"mark": {"type": "text", "fontSize": 24, "fontWeight": "bold", "baseline": "alphabetic", "dy": -14, "color": "#1a1a1a"}, "encoding": {"y": {"field": "hi", "type": "quantitative", "scale": {"domain": [0, 12], "nice": false}}, "text": {"field": "sig"}}}
                      ]
                    }
                  ]
                },
                {
                  "resolve": {"scale": {"xOffset": "independent"}},
                  "spacing": 0,
                  "vconcat": [
                    {"width": 1, "height": 1, "data": {"values": [{"s": 1}]}, "mark": {"type": "rect", "opacity": 0}},
                    {
                      "width": 270, "height": 438.4,
                      "title": {"text": "H", "dx": -77.5, "offset": -33.7},
                      "data": {"name": "d"},
                      "transform": [{"filter": "datum.p === 'H'"}],
                      "encoding": {
                        "x": {"field": "gene", "type": "nominal", "sort": null, "scale": {"paddingInner": 0, "paddingOuter": 0}, "axis": {"title": null, "tickBand": "extent"}},
                        "xOffset": {"field": "group", "type": "nominal", "sort": ["DiPS", "DPSC", "BDL-E5+", "BDL-E5-"], "scale": {"paddingInner": 0, "paddingOuter": 0.727}}
                      },
                      "layer": [
                        {"mark": {"type": "bar", "stroke": "#2b2b2b"},
                         "encoding": {
                           "y": {"field": "value", "type": "quantitative", "scale": {"domain": [0, 16], "nice": false}, "axis": {"title": "Fold change", "values": [0, 2, 4, 6, 8, 10, 12, 14, 16], "format": "~g", "titlePadding": 8, "titleY": 212}},
                           "fill": {"field": "group", "type": "nominal", "scale": {"domain": ["DiPS", "DPSC", "BDL-E5+", "BDL-E5-"], "range": ["#ffffff", "#ffffff", "#333333", "#00aeef"]}},
                           "strokeWidth": {"condition": {"test": "datum.value < 0.001", "value": 0}, "value": 2.5}
                         }},
                        {"transform": [{"filter": "datum.group === 'DPSC'"}],
                         "mark": {"type": "bar", "stroke": "#2b2b2b", "strokeWidth": 2.5, "fill": {"gradient": "linear", "x1": 0, "y1": 0, "x2": 0.1122, "y2": 1.0964, "stops": [{"offset":0,"color":"#fff"},{"offset":0.03825,"color":"#fff"},{"offset":0.04185,"color":"#333"},{"offset":0.04545,"color":"#fff"},{"offset":0.08371,"color":"#fff"},{"offset":0.08731,"color":"#333"},{"offset":0.09091,"color":"#fff"},{"offset":0.12916,"color":"#fff"},{"offset":0.13276,"color":"#333"},{"offset":0.13636,"color":"#fff"},{"offset":0.17462,"color":"#fff"},{"offset":0.17822,"color":"#333"},{"offset":0.18182,"color":"#fff"},{"offset":0.22007,"color":"#fff"},{"offset":0.22367,"color":"#333"},{"offset":0.22727,"color":"#fff"},{"offset":0.26553,"color":"#fff"},{"offset":0.26913,"color":"#333"},{"offset":0.27273,"color":"#fff"},{"offset":0.31098,"color":"#fff"},{"offset":0.31458,"color":"#333"},{"offset":0.31818,"color":"#fff"},{"offset":0.35644,"color":"#fff"},{"offset":0.36004,"color":"#333"},{"offset":0.36364,"color":"#fff"},{"offset":0.40189,"color":"#fff"},{"offset":0.40549,"color":"#333"},{"offset":0.40909,"color":"#fff"},{"offset":0.44735,"color":"#fff"},{"offset":0.45095,"color":"#333"},{"offset":0.45455,"color":"#fff"},{"offset":0.4928,"color":"#fff"},{"offset":0.4964,"color":"#333"},{"offset":0.5,"color":"#fff"},{"offset":0.53825,"color":"#fff"},{"offset":0.54185,"color":"#333"},{"offset":0.54545,"color":"#fff"},{"offset":0.58371,"color":"#fff"},{"offset":0.58731,"color":"#333"},{"offset":0.59091,"color":"#fff"},{"offset":0.62916,"color":"#fff"},{"offset":0.63276,"color":"#333"},{"offset":0.63636,"color":"#fff"},{"offset":0.67462,"color":"#fff"},{"offset":0.67822,"color":"#333"},{"offset":0.68182,"color":"#fff"},{"offset":0.72007,"color":"#fff"},{"offset":0.72367,"color":"#333"},{"offset":0.72727,"color":"#fff"},{"offset":0.76553,"color":"#fff"},{"offset":0.76913,"color":"#333"},{"offset":0.77273,"color":"#fff"},{"offset":0.81098,"color":"#fff"},{"offset":0.81458,"color":"#333"},{"offset":0.81818,"color":"#fff"},{"offset":0.85644,"color":"#fff"},{"offset":0.86004,"color":"#333"},{"offset":0.86364,"color":"#fff"},{"offset":0.90189,"color":"#fff"},{"offset":0.90549,"color":"#333"},{"offset":0.90909,"color":"#fff"},{"offset":0.94735,"color":"#fff"},{"offset":0.95095,"color":"#333"},{"offset":0.95455,"color":"#fff"},{"offset":0.9928,"color":"#fff"},{"offset":0.9964,"color":"#333"},{"offset":1,"color":"#fff"}]}},
                         "encoding": {"y": {"field": "value", "type": "quantitative", "scale": {"domain": [0, 16], "nice": false}}}},
                        {"mark": {"type": "rule", "color": "#1a1a1a", "strokeWidth": 2}, "encoding": {"y": {"field": "lo", "type": "quantitative", "scale": {"domain": [0, 16], "nice": false}}, "y2": {"field": "hi"}}},
                        {"mark": {"type": "tick", "color": "#1a1a1a", "thickness": 2, "size": 11}, "encoding": {"y": {"field": "lo", "type": "quantitative", "scale": {"domain": [0, 16], "nice": false}}}},
                        {"mark": {"type": "tick", "color": "#1a1a1a", "thickness": 2, "size": 11}, "encoding": {"y": {"field": "hi", "type": "quantitative", "scale": {"domain": [0, 16], "nice": false}}}},
                        {"mark": {"type": "text", "fontSize": 24, "fontWeight": "bold", "baseline": "alphabetic", "dy": -12, "color": "#1a1a1a"}, "encoding": {"y": {"field": "hi", "type": "quantitative", "scale": {"domain": [0, 16], "nice": false}}, "text": {"field": "sig"}}}
                      ]
                    }
                  ]
                }
              ]
            }
          ]
        }
      ]
    }
  ]
}
